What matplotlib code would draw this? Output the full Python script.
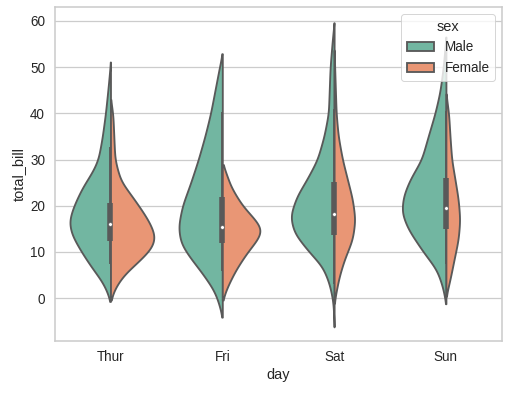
import numpy as np
import matplotlib.pyplot as plt
import seaborn as sns
from matplotlib.patches import Patch

days = ['Thur', 'Fri', 'Sat', 'Sun']
sexes = ['Male', 'Female']

# violin outlines: total_bill level -> half width (in category steps)
thur_male_y = [51.1, 45.6, 40, 34.8, 30, 27.5, 23.9, 20, 16.7, 13.8, 10, 6.5, 3.6, 1.4, -0.7]
thur_male_w = [0, .021, .045, .074, .110, .158, .253, .329, .373, .349, .260, .164, .074, .030, 0]
thur_fem_y = [43, 40, 30, 25.4, 22.5, 20, 16.7, 13.4, 10.9, 8, 5.1, 2.2, -0.4]
thur_fem_w = [0, .021, .039, .090, .179, .253, .343, .403, .373, .253, .119, .039, 0]

fri_male_y = [52.9, 50.2, 40, 35.1, 30, 24.9, 20, 15.5, 11.9, 9, 5.4, 1.7, -1.2, -4.1]
fri_male_w = [0, .024, .105, .155, .215, .284, .358, .394, .373, .295, .179, .074, .030, 0]
fri_fem_y = [28.9, 27.8, 24.2, 20, 17, 14.8, 12.6, 10, 6.1, 2.5, -0.4]
fri_fem_w = [0, .024, .074, .179, .295, .364, .313, .224, .119, .045, 0]

sat_male_y = [59.6, 56.2, 50, 40, 35.1, 30, 25.7, 22.1, 17.8, 14.1, 10, 6.9, 3.3, 0, -1.8, -6.2]
sat_male_w = [0, .015, .036, .051, .090, .150, .244, .334, .394, .358, .224, .105, .045, .015, .007, 0]
sat_fem_y = [53.7, 40, 35.1, 30, 25.7, 21.4, 17, 12.7, 8.3, 4.7, 1.1, -1.1]
sat_fem_w = [0, .018, .036, .074, .119, .164, .188, .164, .090, .045, .015, 0]

sun_male_y = [56.5, 50, 44.6, 40, 35.1, 30, 25.7, 22.1, 18.5, 14.9, 10, 6.2, 2.5, -1.2]
sun_male_w = [0, .024, .054, .098, .158, .218, .322, .382, .397, .338, .203, .083, .030, 0]
sun_fem_y = [44.2, 40, 35.1, 30, 25.7, 21.4, 17, 12.7, 8.3, 4, 0.4]
sun_fem_w = [0, .024, .036, .051, .081, .110, .125, .110, .072, .036, 0]

# inner box (all sexes together)
box_q1 = [12.3, 11.9, 13.6, 14.9]
box_med = [16.1, 15.4, 18.3, 19.6]
box_q3 = [20.7, 22.0, 25.2, 25.9]
whisk_lo = [7.5, 5.8, 3.1, 7.3]
whisk_hi = [32.7, 40.2, 41.0, 40.6]

male_shapes = [(thur_male_y, thur_male_w), (fri_male_y, fri_male_w),
               (sat_male_y, sat_male_w), (sun_male_y, sun_male_w)]
fem_shapes = [(thur_fem_y, thur_fem_w), (fri_fem_y, fri_fem_w),
              (sat_fem_y, sat_fem_w), (sun_fem_y, sun_fem_w)]


def smooth_outline(y, w, sigma=1.3):
    y = np.asarray(y, float)[::-1]
    w = np.asarray(w, float)[::-1]
    yy = np.linspace(y[0], y[-1], 400)
    ww = np.interp(yy, y, w)
    step = yy[1] - yy[0]
    k = np.arange(-int(4 * sigma / step), int(4 * sigma / step) + 1) * step
    kern = np.exp(-0.5 * (k / sigma) ** 2)
    kern /= kern.sum()
    ww = np.convolve(ww, kern, mode='same')
    return yy, ww


sns.set_theme(style='whitegrid')
plt.rcParams['font.family'] = ['Liberation Sans', 'DejaVu Sans']
plt.rcParams.update({
    'xtick.labelsize': 13.5, 'ytick.labelsize': 13.5, 'axes.labelsize': 14.5,
    'legend.fontsize': 13.5, 'legend.title_fontsize': 14.5,
    'grid.linewidth': 1.25, 'axes.linewidth': 1.6,
})

pal = [sns.desaturate(c, .75) for c in sns.color_palette('Set2', 2)]
gray = '#595959'
lw = 1.85

fig = plt.figure(figsize=(510 / 72, 393 / 72), dpi=72)
ax = fig.add_axes([0.107, 0.133, 0.877, 0.848])

for i in range(len(days)):
    yy, ww = smooth_outline(*male_shapes[i])
    ax.fill_betweenx(yy, i - ww, i, facecolor=pal[0], edgecolor=gray, lw=lw, zorder=1)
    yy, ww = smooth_outline(*fem_shapes[i])
    ax.fill_betweenx(yy, i, i + ww, facecolor=pal[1], edgecolor=gray, lw=lw, zorder=1)
    ax.plot([i, i], [whisk_lo[i], whisk_hi[i]], color=gray, lw=lw, solid_capstyle='butt', zorder=2)
    ax.plot([i, i], [box_q1[i], box_q3[i]], color=gray, lw=lw * 3, solid_capstyle='butt', zorder=2)
    ax.scatter(i, box_med[i], s=(lw * 2) ** 2, color='white', edgecolor=gray, lw=0.5, zorder=3)

ax.set_xticks(range(len(days)))
ax.set_xticklabels(days)
ax.set_xlim(-0.5, 3.5)
ax.set_ylim(-9.2, 62.9)
ax.set_yticks(range(0, 61, 10))
ax.xaxis.grid(False)
ax.set_xlabel('day')
ax.set_ylabel('total_bill')

handles = [Patch(facecolor=pal[k], edgecolor=gray, lw=lw, label=sexes[k]) for k in range(2)]
ax.legend(handles=handles, title='sex', loc='upper right')

fig.savefig('out.png', dpi=72)
